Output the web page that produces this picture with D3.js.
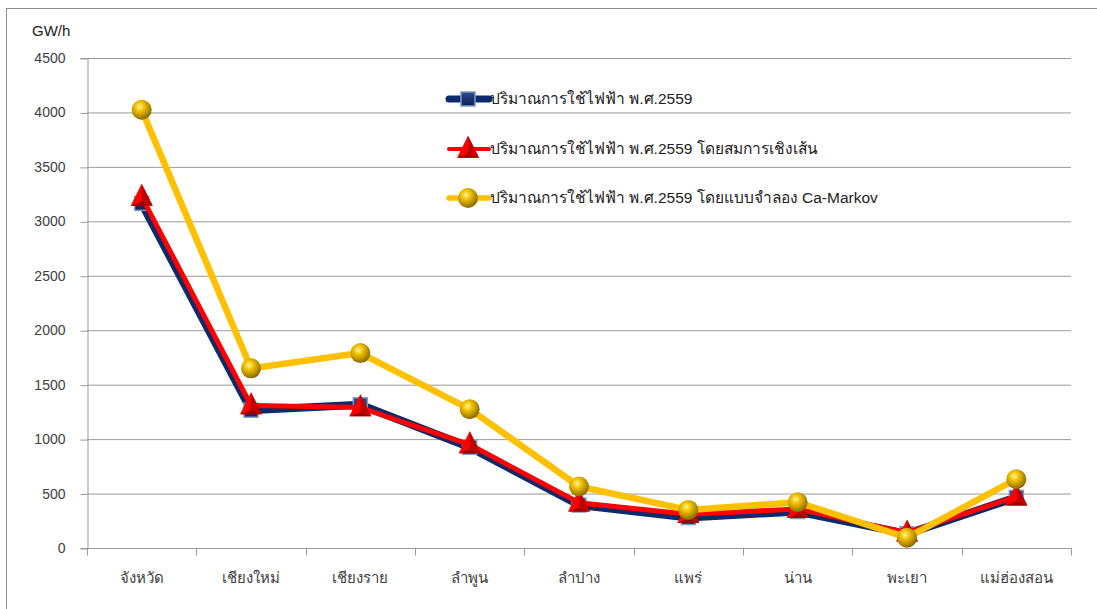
<!DOCTYPE html>
<html>
<head>
<meta charset="utf-8">
<script src="https://cdn.jsdelivr.net/npm/d3@7"></script>
<style>
  html, body { margin: 0; padding: 0; background: #fff; }
  svg { display: block; font-family: "Liberation Sans", Arial, sans-serif; }
</style>
</head>
<body>
<svg id="chart" width="1097" height="609"></svg>
<script>
// Provinces of upper northern Thailand
const categories = ["จังหวัด", "เชียงใหม่", "เชียงราย", "ลำพูน", "ลำปาง", "แพร่", "น่าน", "พะเยา", "แม่ฮ่องสอน"];
// Electricity use 2559 (GW/h): actual, linear-equation estimate, CA-Markov estimate
const actualValues = [3165, 1265, 1315, 925, 395, 280, 335, 130, 465];
const linearValues = [3225, 1310, 1290, 950, 415, 310, 358, 140, 472];
const markovValues = [4025, 1650, 1790, 1275, 565, 350, 420, 95, 632];
const seriesNames = [
  "ปริมาณการใช้ไฟฟ้า พ.ศ.2559",
  "ปริมาณการใช้ไฟฟ้า พ.ศ.2559 โดยสมการเชิงเส้น",
  "ปริมาณการใช้ไฟฟ้า พ.ศ.2559 โดยแบบจำลอง Ca-Markov"
];
const yTicks = [0, 500, 1000, 1500, 2000, 2500, 3000, 3500, 4000, 4500];
const unitLabel = "GW/h";

const svg = d3.select("#chart");
const W = 1097, H = 609;
const plot = { left: 87, right: 1071, top: 58, bottom: 548 };

// Outer frame of the chart area
svg.append("rect").attr("x", 6.5).attr("y", 8.5).attr("width", W).attr("height", H)
  .attr("fill", "none").attr("stroke", "#8c8c8c").attr("stroke-width", 1);

const defs = svg.append("defs");
const sphere = defs.append("radialGradient").attr("id", "sphere")
  .attr("cx", "40%").attr("cy", "35%").attr("r", "65%");
sphere.append("stop").attr("offset", "0%").attr("stop-color", "#fff3a0");
sphere.append("stop").attr("offset", "35%").attr("stop-color", "#f2c200");
sphere.append("stop").attr("offset", "100%").attr("stop-color", "#8a6a00");
const sq = defs.append("linearGradient").attr("id", "sq")
  .attr("x1", "0").attr("y1", "0").attr("x2", "0").attr("y2", "1");
sq.append("stop").attr("offset", "0%").attr("stop-color", "#2b4a8c");
sq.append("stop").attr("offset", "100%").attr("stop-color", "#0c2256");

const x = d3.scaleBand().domain(categories).range([plot.left, plot.right]);
const y = d3.scaleLinear().domain([0, 4500]).range([plot.bottom, plot.top]);

// Horizontal gridlines
svg.append("g").selectAll("line").data(yTicks.filter(t => t > 0)).join("line")
  .attr("x1", plot.left).attr("x2", plot.right)
  .attr("y1", d => y(d) + 0.5).attr("y2", d => y(d) + 0.5)
  .attr("stroke", "#9a9a9a").attr("stroke-width", 1);

// Y axis
const yAxis = svg.append("g").attr("transform", `translate(${plot.left + 0.5},0)`)
  .call(d3.axisLeft(y).tickValues(yTicks).tickSize(7).tickPadding(15).tickFormat(d3.format("d")));
yAxis.select(".domain").attr("stroke", "#9a9a9a");
yAxis.selectAll(".tick line").attr("stroke", "#9a9a9a");
yAxis.selectAll(".tick line").attr("transform", "translate(0,0.5)");
yAxis.selectAll("text").attr("font-size", 14).attr("fill", "#404040")
  .attr("font-family", "'Liberation Sans', Arial, sans-serif");

// X axis with tick marks on category boundaries
const xg = svg.append("g").attr("transform", `translate(0,${plot.bottom + 0.5})`);
xg.append("line").attr("x1", plot.left).attr("x2", plot.right + 0.5)
  .attr("stroke", "#9a9a9a");
const bounds = categories.map(c => x(c)).concat([plot.right]);
xg.selectAll("line.tk").data(bounds).join("line").attr("class", "tk")
  .attr("x1", d => Math.round(d) + 0.5).attr("x2", d => Math.round(d) + 0.5)
  .attr("y1", 0).attr("y2", 7).attr("stroke", "#9a9a9a");
xg.selectAll("text").data(categories).join("text")
  .attr("x", d => x(d) + x.bandwidth() / 2).attr("y", 34)
  .attr("text-anchor", "middle").attr("font-size", 15).attr("fill", "#404040")
  .text(d => d);

// Unit label
svg.append("text").attr("x", 32).attr("y", 36).attr("font-size", 15)
  .attr("fill", "#222").text(unitLabel);

const cx = d => x(d) + x.bandwidth() / 2;
const line = d3.line().x(d => cx(d.c)).y(d => y(d.v));
const pts = vals => categories.map((c, i) => ({ c, v: vals[i] }));

// Marker drawers
function drawSquare(g, px, py) {
  g.append("rect").attr("x", px - 7).attr("y", py - 7).attr("width", 14).attr("height", 14)
    .attr("fill", "url(#sq)").attr("stroke", "#7f9cc4").attr("stroke-width", 1.5);
}
function drawTriangle(g, px, py) {
  const h = 22, w = 22;
  g.append("path").attr("d", `M${px},${py - h * 0.6} L${px + w / 2},${py + h * 0.4} L${px - w / 2},${py + h * 0.4} Z`)
    .attr("fill", "#ff0000");
  g.append("path").attr("d", `M${px},${py - h * 0.6} L${px + w / 2},${py + h * 0.4} L${px},${py + h * 0.22} Z`)
    .attr("fill", "#c00000");
  g.append("path").attr("d", `M${px - w / 2},${py + h * 0.4} L${px},${py + h * 0.22} L${px + w / 2},${py + h * 0.4} Z`)
    .attr("fill", "#990000");
}
function drawSphere(g, px, py) {
  g.append("circle").attr("cx", px).attr("cy", py).attr("r", 10).attr("fill", "url(#sphere)");
}

const series = [
  { vals: actualValues, color: "#0d2a6b", width: 8, marker: drawSquare },
  { vals: linearValues, color: "#ff0000", width: 5, marker: drawTriangle },
  { vals: markovValues, color: "#ffc000", width: 6.5, marker: drawSphere }
];

series.forEach(s => {
  const g = svg.append("g");
  g.append("path").datum(pts(s.vals)).attr("d", line)
    .attr("fill", "none").attr("stroke", s.color).attr("stroke-width", s.width)
    .attr("stroke-linejoin", "round").attr("stroke-linecap", "round");
  pts(s.vals).forEach(p => s.marker(g, cx(p.c), y(p.v)));
});

// Legend
const legend = svg.append("g");
const legendY = [99, 149, 198];
series.forEach((s, i) => {
  const ly = legendY[i];
  legend.append("line").attr("x1", 449).attr("x2", 489).attr("y1", ly).attr("y2", ly)
    .attr("stroke", s.color).attr("stroke-width", s.width - 1).attr("stroke-linecap", "round");
  s.marker(legend, 468, ly);
  legend.append("text").attr("x", 490).attr("y", ly + 5).attr("font-size", 15.5)
    .attr("fill", "#222").text(seriesNames[i]);
});
</script>
</body>
</html>
